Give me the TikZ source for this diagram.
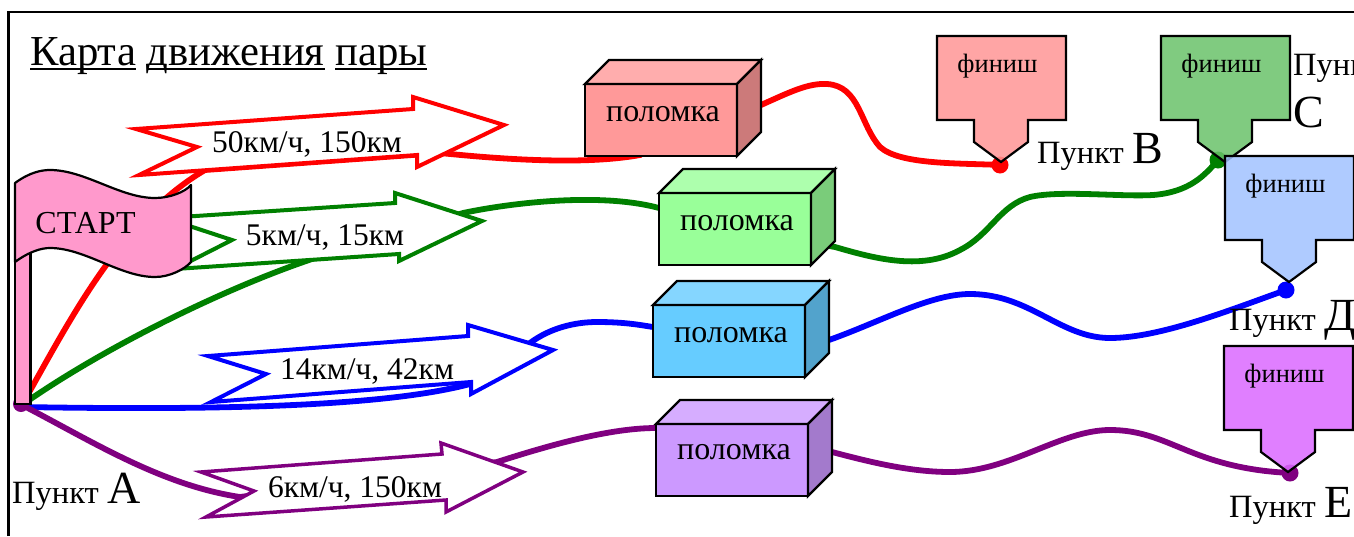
\documentclass[tikz,border=0pt]{standalone}
\usepackage{fontspec}
\setmainfont{Liberation Serif}
\newcommand{\fsz}[1]{\fontsize{#1}{#1}\selectfont}
\newlength{\ulw}
\newcommand{\myul}[1]{\settowidth{\ulw}{#1}\rlap{\rule[-4.5pt]{\ulw}{2pt}}#1}
\definecolor{cRed}{HTML}{FF0000}
\definecolor{cGreen}{HTML}{008000}
\definecolor{cBlue}{HTML}{0000FF}
\definecolor{cPurple}{HTML}{800080}
\definecolor{flagpink}{HTML}{FF99CC}
\definecolor{fRed}{HTML}{FF9696}
\definecolor{fGreen}{HTML}{6AC36A}
\definecolor{fBlue}{HTML}{A2C3FF}
\definecolor{fPurple}{HTML}{DB69FF}
\definecolor{bRedF}{HTML}{FF9999}
\definecolor{bRedT}{HTML}{FFADAD}
\definecolor{bRedS}{HTML}{CC7A7A}
\definecolor{bGreenF}{HTML}{99FF99}
\definecolor{bGreenT}{HTML}{ADFFAD}
\definecolor{bGreenS}{HTML}{7ACC7A}
\definecolor{bBlueF}{HTML}{66CCFF}
\definecolor{bBlueT}{HTML}{85D6FF}
\definecolor{bBlueS}{HTML}{52A3CC}
\definecolor{bPurpleF}{HTML}{CC99FF}
\definecolor{bPurpleT}{HTML}{D6ADFF}
\definecolor{bPurpleS}{HTML}{A37ACC}
\tikzset{
  route/.style={line width=5.8pt,line cap=round},
  speedarrow/.style={fill=white,line width=4pt,line join=miter,miter limit=10},
  outline/.style={draw=black,line width=2.4pt,line join=miter},
  boxlabel/.style={outline,minimum width=152pt,minimum height=72pt,inner sep=0pt,outer sep=0pt,font=\fsz{32}},
  arrowtext/.style={font=\fsz{31.5},inner sep=0pt},
  finishtext/.style={font=\fsz{26.5},inner sep=0pt,anchor=base},
  place/.style={anchor=base west,inner sep=0pt,font=\fsz{32.5}}
}
% name, x, y, fill colour
\newcommand{\finishbox}[4]{%
  \begin{scope}[shift={(#2,#3)}]
    \draw[line width=2.2pt,fill=#4,fill opacity=0.85] (0,0) -- (129,0) -- (129,84) -- (91,84) -- (91,106) -- (64,126) -- (37,106) -- (37,84) -- (0,84) -- cycle;
    \node[finishtext] (#1) at (60.5,36) {финиш};
  \end{scope}}
% raise of the label, name, centre x, centre y, front, top, side
\newcommand{\brokenbox}[7]{%
  \node[boxlabel,fill=#5] (#2) at (#3,#4) {\smash{\hspace{4pt}\raisebox{#1}{поломка}}};
  \draw[outline,fill=#6] (#2.north west) -- ++(24,-24) -- ++(152,0) -- ++(-24,24) -- cycle;
  \draw[outline,fill=#7] (#2.north east) -- ++(24,-24) -- ++(0,72) -- ++(-24,24) -- cycle;}
\begin{document}
\begin{tikzpicture}[x=1pt,y=-1pt]
\useasboundingbox (0,0) rectangle (1354,536);
\clip (0,0) rectangle (1354,536);
\fill[white] (0,0) rectangle (1354,536);
\draw[line width=2.4pt] (8.5,536) -- (8.5,12) -- (1354,12);

% named route ends
\coordinate (A) at (22,405);
\coordinate (endB) at (1000,165);
\coordinate (endC) at (1218,160);
\coordinate (endD) at (1286,290);
\coordinate (endE) at (1290,473);
\coordinate (r1) at (205,170);
\coordinate (r2) at (440,153);
\coordinate (g1) at (312,259);
\coordinate (g2) at (463,213);
\coordinate (b1) at (470,384);
\coordinate (b2) at (530,343);
\coordinate (p1) at (240,497);
\coordinate (p2) at (497,462);
\coordinate (boxR) at (661,120);
\coordinate (boxG) at (735,229);
\coordinate (boxB) at (729,341);
\coordinate (boxP) at (732,460);

% routes
\draw[route,cRed] (A) .. controls (70,320) and (120,220) .. (r1) -- (r2)
  .. controls (490,158) and (580,166) .. (640,155) -- (boxR) -- (761,105)
  .. controls (790,92) and (808,83) .. (827,84) .. controls (860,86) and (860,125) .. (880,147)
  .. controls (900,165) and (960,163) .. (endB);
\draw[route,cGreen] (A) .. controls (100,350) and (220,290) .. (g1) -- (g2)
  .. controls (510,203) and (600,192) .. (659,208) -- (boxG) -- (835,247)
  .. controls (870,257) and (920,272) .. (960,250) .. controls (990,235) and (1000,205) .. (1030,197)
  .. controls (1060,190) and (1120,197) .. (1153,195) .. controls (1190,192) and (1205,175) .. (endC);
\draw[route,cBlue] (A) -- (22,407) .. controls (200,410) and (380,408) .. (b1) -- (b2)
  .. controls (550,328) and (575,322) .. (597,322) .. controls (625,322) and (640,325) .. (653,327) -- (boxB) -- (829,340)
  .. controls (880,322) and (930,294) .. (970,294) .. controls (1030,294) and (1060,338) .. (1110,338)
  .. controls (1160,338) and (1230,310) .. (endD);
\draw[route,cPurple] (A) .. controls (90,440) and (160,485) .. (p1) -- (p2)
  .. controls (550,445) and (610,428) .. (656,428) -- (boxP) -- (832,452)
  .. controls (870,462) and (910,472) .. (950,472) .. controls (1010,472) and (1060,430) .. (1110,430)
  .. controls (1170,430) and (1190,468) .. (endE);

% end dots
\fill[cPurple] (21,404) circle (8);
\fill[cRed] (endB) circle (8.5);
\fill[cGreen] (endC) circle (8.5);
\fill[cBlue] (endD) circle (8.5);
\fill[cPurple] (endE) circle (8.5);

% speed arrows
\draw[speedarrow,draw=cRed] (136,129) -- (413,109) -- (413,97) -- (504,125) -- (417,167) -- (417,155) -- (139,175) -- (197,147) -- cycle;
\node[arrowtext] (t1) at (307,144) {50км/ч, 150км};
\draw[speedarrow,draw=cGreen] (165,218) -- (395,203) -- (395,193) -- (482,221) -- (399,261) -- (399,254) -- (175,269) -- (232,240) -- cycle;
\node[arrowtext] (t2) at (325,238) {5км/ч, 15км};
\draw[speedarrow,draw=cBlue] (208,356) -- (468,336) -- (468,325) -- (553,350) -- (471,394) -- (471,382) -- (211,402) -- (266,374) -- cycle;
\node[arrowtext] (t3) at (367,371) {14км/ч, 42км};
\draw[speedarrow,draw=cPurple,line width=3.5pt] (201,472) -- (442,454) -- (441,443) -- (523,472) -- (446,512) -- (446,500) -- (206,517) -- (254,491) -- cycle;
\node[arrowtext] (t4) at (355,489) {6км/ч, 150км};

% breakdown boxes
\brokenbox{-1pt}{bb1}{661}{120}{bRedF}{bRedT}{bRedS}
\brokenbox{-1pt}{bb2}{735}{229}{bGreenF}{bGreenT}{bGreenS}
\brokenbox{-1pt}{bb3}{729}{341}{bBlueF}{bBlueT}{bBlueS}
\brokenbox{1pt}{bb4}{732}{460}{bPurpleF}{bPurpleT}{bPurpleS}

% finish markers
\finishbox{fin1}{937}{36}{fRed}
\finishbox{fin2}{1161}{36}{fGreen}
\finishbox{fin3}{1225}{156}{fBlue}
\finishbox{fin4}{1224}{346}{fPurple}

% flag
\draw[line width=2.2pt,fill=flagpink] (15,240) rectangle (30.5,404);
\draw[line width=2.2pt,fill=flagpink,line join=round] (15,183) .. controls (30,172) and (42,170) .. (50,170)
  .. controls (85,170) and (120,198) .. (155,198) .. controls (170,198) and (185,192) .. (191,185)
  -- (191,262) .. controls (185,269) and (170,277) .. (155,277)
  .. controls (120,277) and (85,248) .. (50,248) .. controls (42,248) and (30,251) .. (15,262) -- cycle;
\node[inner sep=0pt,font=\fsz{32}] (startlabel) at (85.5,223) {СТАРТ};

% texts
\node[place,font=\fsz{42.7}] (title) at (30,65) {\myul{Карта} \myul{движения} \myul{пары}};
\node[place] (ptA) at (12,503) {Пункт {\fsz{46}А}};
\node[place] (ptB) at (1037,163) {Пункт {\fsz{46}В}};
\node[place] (ptC) at (1293,75) {Пункт};
\node[place,font=\fsz{46}] (ptC2) at (1293,127) {С};
\node[place] (ptD) at (1229,330) {Пункт {\fsz{46}Д}};
\node[place] (ptE) at (1229,517) {Пункт {\fsz{46}Е}};
\end{tikzpicture}
\end{document}
